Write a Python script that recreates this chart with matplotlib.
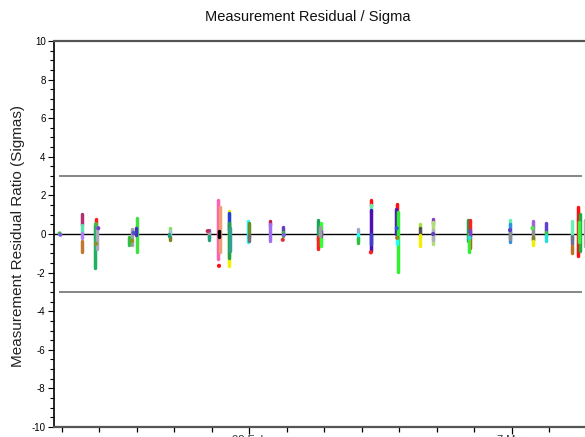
import matplotlib
matplotlib.use("Agg")
import matplotlib.pyplot as plt
from matplotlib.ticker import MultipleLocator, FixedLocator, FuncFormatter

plt.rcParams["font.family"] = ["Liberation Sans", "DejaVu Sans"]

# ---------- residual ratio data (days since first tick) ----------
# each pass is drawn as vertical strips: day, top, bottom, colour
seg_day = [
    0.54, 0.54, 0.54, 0.54,
    0.92, 0.90, 0.95,
    2.00, 1.87, 1.99, 1.80,
    2.89, 2.89, 2.89, 2.87,
    3.92, 3.92, 3.93,
    4.18, 4.22, 4.20,
    4.47, 4.46, 4.47, 4.48,
    4.97, 4.99, 4.99,
    5.56, 5.56,
    5.91, 5.91,
    6.85, 6.85, 6.92, 6.93, 6.89,
    7.91, 7.91, 7.91,
    8.25, 8.25, 8.25, 8.26,
    8.95, 8.93, 8.97, 8.95,
    9.56, 9.56, 9.56,
    9.91, 9.91, 9.91,
    10.84, 10.90, 10.87, 10.90,
    11.96, 11.96, 11.97,
    12.57, 12.57, 12.57, 12.57,
    12.92, 12.92, 12.92,
    13.61, 13.61, 13.61,
    13.78, 13.82, 13.80, 13.95,
]
seg_top = [
    1.02, 0.45, 0.05, -0.35,
    0.78, 0.45, 0.35,
    0.82, 0.25, 0.30, -0.15,
    0.30, 0.15, -0.15, 0.00,
    0.22, 0.05, -0.10,
    1.76, 1.40, 0.15,
    1.20, 1.10, 0.55, 0.30,
    0.68, 0.55, -0.05,
    0.66, 0.50,
    0.38, 0.12,
    0.72, -0.15, 0.55, 0.15, 0.35,
    0.25, 0.00, -0.20,
    1.75, 1.50, 1.25, 0.00,
    1.55, 1.30, 1.15, -0.30,
    0.50, 0.30, -0.05,
    0.78, 0.60, 0.20,
    0.75, 0.72, 0.00, 0.20,
    0.72, 0.50, 0.10,
    0.65, 0.35, -0.15, -0.35,
    0.55, 0.10, -0.05,
    0.68, -0.10, -0.62,
    1.40, 1.05, 0.60, 0.70,
]
seg_bottom = [
    0.45, 0.05, -0.20, -0.92,
    0.42, -1.78, -0.80,
    -0.95, -0.55, -0.05, -0.55,
    0.05, -0.15, -0.30, -0.10,
    0.00, -0.15, -0.30,
    -1.30, -0.95, -0.18,
    -1.68, 0.20, -1.25, -0.90,
    -0.42, -0.15, -0.35,
    0.45, -0.35,
    0.12, -0.10,
    -0.30, -0.78, -0.62, -0.10, -0.10,
    0.00, -0.32, -0.45,
    1.45, 1.15, -0.88, -0.50,
    1.25, 0.00, -1.98, -0.50,
    0.25, -0.05, -0.62,
    0.50, -0.52, -0.30,
    -0.35, -0.75, -0.95, -0.10,
    0.45, -0.40, -0.25,
    0.35, -0.30, -0.30, -0.55,
    0.10, -0.05, -0.35,
    -0.30, -0.50, -0.98,
    -1.15, -0.88, -0.40, -0.60,
]
seg_color = [
    "#b03070", "#60e0b0", "#b080f0", "#c07830",
    "#ff2020", "#20b060", "#a8a8b8",
    "#40e040", "#a0a0a0", "#4030c0", "#30c040",
    "#80e060", "#b0c0d8", "#808020", "#20a080",
    "#8050d0", "#a0a0a0", "#20a080",
    "#ff60b0", "#f0a070", "#000000",
    "#f0f000", "#2040e0", "#20a050", "#30a090",
    "#20ffff", "#6a8e23", "#707070",
    "#c02050", "#a070f0",
    "#6040c0", "#30c040",
    "#20a060", "#ff2020", "#30ff30", "#8040d0", "#a0a0a0",
    "#a0a8c8", "#20ffff", "#30c040",
    "#ff1010", "#60f0b0", "#5010b0", "#4040d0",
    "#ff1010", "#5020b0", "#30f030", "#20ffff",
    "#a0e040", "#505050", "#f0f000",
    "#8040c0", "#b0e070", "#b0b0c0",
    "#20a050", "#ff2020", "#30f030", "#8040d0",
    "#60f0b0", "#3090e0", "#909090",
    "#a060e0", "#909090", "#808020", "#f0f000",
    "#6040d0", "#40c040", "#20e0e0",
    "#70f0b0", "#707090", "#c07020",
    "#ff1010", "#20b040", "#40f040", "#b0b0b0",
]

# single measurements
dot_day = [-0.05, -0.03, 0.98, 0.92, 0.92, 1.88, 1.92, 3.90, 4.20, 5.90, 5.93,
           8.25, 8.95, 8.94, 9.91, 10.88, 11.96, 12.56]
dot_val = [0.03, -0.04, 0.30, 0.50, -0.50, -0.35, 0.05, 0.15, -1.65, -0.30, -0.05,
           -0.95, -0.20, 0.30, 0.00, -0.20, 0.20, 0.30]
dot_color = ["#40c040", "#8060e0", "#7040c0", "#40c040", "#909020", "#909020",
             "#5050d0", "#c03050", "#ff1010", "#e03030", "#8060e0", "#ff2020",
             "#a08020", "#3060e0", "#6040c0", "#20e0e0", "#6040c0", "#50e050"]

sigma_limit = 3.0
limit_start, limit_end = -0.07, 13.87

x_minor = list(range(0, 14))
x_major = [5, 12]
x_major_labels = ["28 Feb", "7 Mar"]

# ---------- figure ----------
fig = plt.figure(figsize=(5.85, 4.37), dpi=100)
ax = fig.add_axes([54 / 585, 10 / 437, 566 / 585, 386 / 437])

ax.set_xlim(-0.2, (620 - 61.5) / 37.5)
ax.set_ylim(-10, 10)

ax.axhline(0, color="black", lw=1.0, zorder=1)
ax.hlines([sigma_limit, -sigma_limit], limit_start, limit_end,
          color="#666666", lw=1.1, zorder=1)

for d, t, b, c in zip(seg_day, seg_top, seg_bottom, seg_color):
    ax.plot([d, d], [t, b], color=c, lw=2.5, solid_capstyle="round", zorder=2)
ax.scatter(dot_day, dot_val, c=dot_color, s=9, zorder=3, linewidths=0)

# spines
for side in ("top", "bottom"):
    ax.spines[side].set_color("#555555")
    ax.spines[side].set_linewidth(1.6)
ax.spines["left"].set_color("black")
ax.spines["left"].set_linewidth(1.2)
ax.spines["right"].set_visible(False)

# y axis
ax.yaxis.set_major_locator(MultipleLocator(2))
ax.yaxis.set_minor_locator(MultipleLocator(0.5))
ax.yaxis.set_major_formatter(FuncFormatter(lambda v, p: "%d" % v))
ax.tick_params(axis="y", which="major", length=4.5, width=0.8, labelsize=7,
               pad=1.5, colors="black")
ax.tick_params(axis="y", which="minor", length=3, width=0.8, colors="black")

# x axis
ax.xaxis.set_major_locator(FixedLocator(x_major))
ax.xaxis.set_minor_locator(FixedLocator([v for v in x_minor if v not in x_major]))
ax.set_xticklabels(x_major_labels)
ax.tick_params(axis="x", which="major", length=5, width=0.9, labelsize=8,
               pad=1.0, colors="black", labelcolor="#333333")
ax.tick_params(axis="x", which="minor", length=3.5, width=0.9, colors="black")

fig.text(308 / 585, 1 - 17 / 437, "Measurement Residual / Sigma",
         ha="center", va="center", fontsize=10.5, color="#111111")
fig.text(18 / 585, (437 - 236) / 437, "Measurement Residual Ratio (Sigmas)",
         rotation=90, ha="center", va="center", fontsize=11, color="#222222")

fig.savefig("out.png", dpi=100)
